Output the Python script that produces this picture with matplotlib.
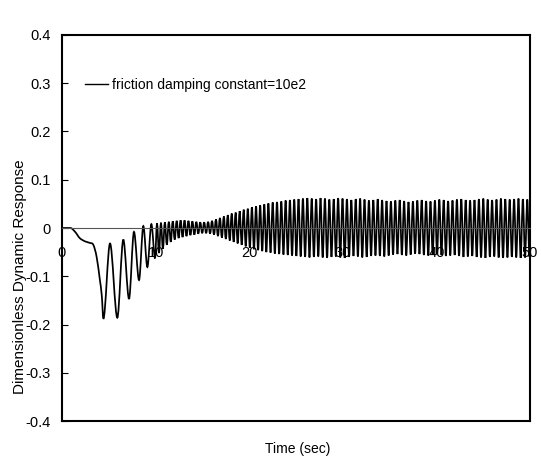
import matplotlib
matplotlib.use("Agg")
import matplotlib.pyplot as plt
from matplotlib.path import Path
from matplotlib.patches import PathPatch
from matplotlib.lines import Line2D

plt.rcParams['font.family'] = ['Liberation Sans', 'DejaVu Sans']
plt.rcParams['axes.unicode_minus'] = False

# ---------------- data ----------------
lead_t = [0.0, 0.9, 1.4, 1.9, 2.5, 3.0, 3.35, 3.7, 4.05, 4.25]
lead_v = [0.0, 0.0, -0.008, -0.021, -0.028, -0.031, -0.035, -0.060, -0.108, -0.140]

peak_t = [5.13, 6.55, 7.69, 8.69, 9.55,
          10.15, 10.57, 10.99, 11.41, 11.83, 12.25, 12.67, 13.09, 13.51, 13.93,
          14.35, 14.77, 15.19, 15.61, 16.03, 16.45, 16.87, 17.29, 17.71, 18.13,
          18.55, 18.98, 19.41, 19.85, 20.29, 20.73, 21.17, 21.61, 22.05, 22.51,
          22.97, 23.43, 23.89, 24.35, 24.81, 25.27,
          25.74, 26.21, 26.68, 27.15, 27.62, 28.09, 28.56, 29.03, 29.50, 29.97,
          30.44, 30.91, 31.38, 31.85, 32.32, 32.79, 33.26, 33.73, 34.20, 34.67,
          35.14, 35.61, 36.08, 36.55, 37.02, 37.49, 37.96, 38.43, 38.90, 39.37,
          39.84, 40.31, 40.78, 41.25, 41.72, 42.19, 42.66, 43.13, 43.60, 44.07,
          44.54, 45.01, 45.48, 45.95, 46.42, 46.89, 47.36, 47.83, 48.30, 48.77,
          49.24, 49.71]
peak_v = [-0.032, -0.024, -0.008, 0.004, 0.008,
          0.010, 0.011, 0.012, 0.013, 0.014, 0.015, 0.016, 0.016, 0.015, 0.014,
          0.013, 0.012, 0.012, 0.013, 0.015, 0.018, 0.021, 0.024, 0.027, 0.030,
          0.032, 0.035, 0.038, 0.040, 0.043, 0.045, 0.047, 0.049, 0.051, 0.053,
          0.054, 0.055, 0.057, 0.058, 0.059, 0.060,
          0.061, 0.062, 0.061, 0.060, 0.062, 0.061, 0.059, 0.060, 0.062, 0.061,
          0.060, 0.058, 0.060, 0.061, 0.059, 0.057, 0.058, 0.060, 0.058, 0.056,
          0.055, 0.057, 0.058, 0.056, 0.054, 0.055, 0.057, 0.058, 0.056, 0.055,
          0.057, 0.059, 0.058, 0.056, 0.057, 0.059, 0.060, 0.058, 0.057, 0.058,
          0.060, 0.061, 0.059, 0.058, 0.059, 0.061, 0.060, 0.059, 0.060, 0.061,
          0.060, 0.059]

trough_t = [4.42, 5.91, 7.16, 8.23, 9.12, 9.94,
            10.36, 10.78, 11.20, 11.62, 12.04, 12.46, 12.88, 13.30, 13.72, 14.14,
            14.56, 14.98, 15.40, 15.82, 16.24, 16.66, 17.08, 17.50, 17.92, 18.34,
            18.77, 19.20, 19.63, 20.07, 20.51, 20.95, 21.39, 21.83, 22.28, 22.74,
            23.20, 23.66, 24.12, 24.58, 25.04, 25.50,
            25.97, 26.44, 26.91, 27.38, 27.85, 28.32, 28.79, 29.26, 29.73, 30.20,
            30.67, 31.14, 31.61, 32.08, 32.55, 33.02, 33.49, 33.96, 34.43, 34.90,
            35.37, 35.84, 36.31, 36.78, 37.25, 37.72, 38.19, 38.66, 39.13, 39.60,
            40.07, 40.54, 41.01, 41.48, 41.95, 42.42, 42.89, 43.36, 43.83, 44.30,
            44.77, 45.24, 45.71, 46.18, 46.65, 47.12, 47.59, 48.06, 48.53, 49.00,
            49.47, 49.94]
trough_v = [-0.188, -0.186, -0.147, -0.108, -0.081, -0.063,
            -0.052, -0.043, -0.035, -0.029, -0.024, -0.021, -0.019, -0.017, -0.015, -0.014,
            -0.012, -0.011, -0.011, -0.012, -0.014, -0.017, -0.020, -0.023, -0.026, -0.029,
            -0.032, -0.035, -0.038, -0.041, -0.044, -0.046, -0.048, -0.050, -0.051, -0.053,
            -0.054, -0.055, -0.056, -0.057, -0.058, -0.059,
            -0.060, -0.061, -0.060, -0.059, -0.061, -0.062, -0.060, -0.059, -0.061, -0.062,
            -0.060, -0.058, -0.059, -0.061, -0.060, -0.058, -0.057, -0.058, -0.059, -0.057,
            -0.055, -0.054, -0.056, -0.057, -0.055, -0.053, -0.054, -0.056, -0.057, -0.055,
            -0.054, -0.056, -0.058, -0.057, -0.056, -0.058, -0.060, -0.059, -0.058, -0.060,
            -0.061, -0.062, -0.060, -0.059, -0.061, -0.062, -0.061, -0.060, -0.061, -0.062,
            -0.061, -0.060]

x_ticks = [0, 10, 20, 30, 40, 50]
x_ticklabels = ['0', '10', '20', '30', '40', '50']
y_ticks = [0.4, 0.3, 0.2, 0.1, 0.0, -0.1, -0.2, -0.3, -0.4]
y_ticklabels = ['0.4', '0.3', '0.2', '0.1', '0', '-0.1', '-0.2', '-0.3', '-0.4']
series_label = 'friction damping constant=10e2'

# ---------------- assemble the series ----------------
pts = list(zip(lead_t, lead_v)) + list(zip(peak_t, peak_v)) + list(zip(trough_t, trough_v))
pts.sort(key=lambda p: p[0])
t = [p[0] for p in pts]
v = [p[1] for p in pts]
n = len(t)

# smooth curve through the read points: cubic Bezier segments drawn by matplotlib,
# horizontal tangents at the extrema
slopes = []
for i in range(n):
    if i == 0 or i == n - 1:
        slopes.append(0.0)
    elif (v[i] - v[i - 1]) * (v[i + 1] - v[i]) <= 0:
        slopes.append(0.0)
    else:
        slopes.append((v[i + 1] - v[i - 1]) / (t[i + 1] - t[i - 1]))

verts = [(t[0], v[0])]
codes = [Path.MOVETO]
for i in range(n - 1):
    dt = t[i + 1] - t[i]
    verts += [(t[i] + dt / 3, v[i] + slopes[i] * dt / 3),
              (t[i + 1] - dt / 3, v[i + 1] - slopes[i + 1] * dt / 3),
              (t[i + 1], v[i + 1])]
    codes += [Path.CURVE4, Path.CURVE4, Path.CURVE4]

# ---------------- figure ----------------
W, H = 541, 461
fig = plt.figure(figsize=(W / 100, H / 100), dpi=100)
ax = fig.add_axes([62 / W, 40 / H, 468 / W, 386 / H])

LW = 1.25
ax.add_patch(PathPatch(Path(verts, codes), fill=False, edgecolor='black',
                       linewidth=LW, transform=ax.transData, zorder=3))

ax.set_xlim(0, 50)
ax.set_ylim(-0.4, 0.4)

for s in ax.spines.values():
    s.set_linewidth(1.5)

ax.set_xticks([])
ax.set_yticks(y_ticks)
ax.set_yticklabels(y_ticklabels, fontsize=10.5)
ax.tick_params(axis='y', direction='in', length=4, width=0.8, pad=8)

# x axis along the zero line
sec = ax.secondary_xaxis(0.5)
sec.set_alignment('bottom')
sec.set_zorder(5)
sec.spines['bottom'].set_linewidth(0.8)
sec.spines['bottom'].set_color('#555555')
sec.set_xticks(x_ticks)
sec.set_xticklabels(x_ticklabels, fontsize=10.5)
sec.tick_params(axis='x', length=0, pad=13)

ax.set_xlabel('Time (sec)', fontsize=10)
ax.xaxis.set_label_coords(0.504, -0.055)
ax.set_ylabel('Dimensionless Dynamic Response', fontsize=11)
ax.yaxis.set_label_coords(-0.075, 0.373)

handle = Line2D([], [], color='black', linewidth=1.0)
ax.legend([handle], [series_label], loc='center left',
          bbox_to_anchor=((85 - 62) / 468, (421 - 85) / 386),
          frameon=False, borderpad=0, borderaxespad=0, handlelength=1.65,
          handletextpad=0.3, fontsize=10)

fig.savefig('out.png', dpi=100)
